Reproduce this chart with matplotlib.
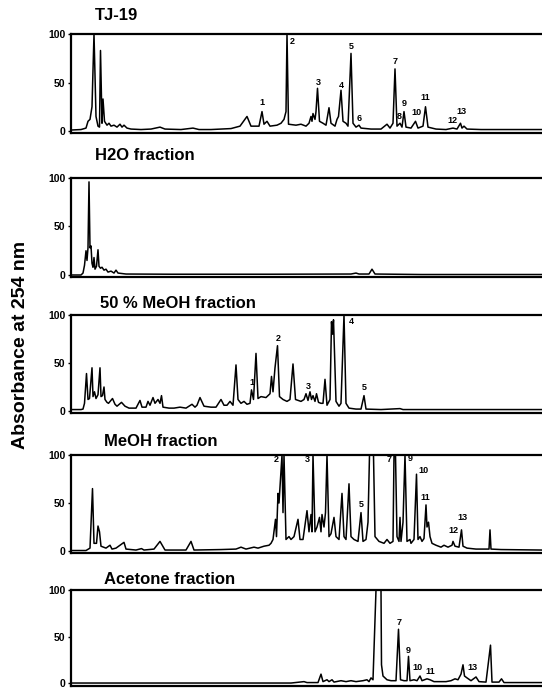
import matplotlib
matplotlib.use('Agg')
import matplotlib.pyplot as plt

plt.rcParams['font.family'] = ['Liberation Sans', 'DejaVu Sans']

# ---------------- data (retention time in min, absorbance in % of full scale) ----------------
panel_names = ['TJ-19', 'H2O fraction', '50 % MeOH fraction', 'MeOH fraction', 'Acetone fraction']

tj19_trace = [(0, 1), (1.0, 1.5), (1.5, 3), (1.7, 10), (1.9, 12), (2.1, 25), (2.3, 100), (2.5, 15),
              (2.7, 5), (2.85, 4), (2.95, 83), (3.1, 8), (3.2, 33), (3.35, 10), (3.6, 6), (3.8, 8),
              (4.0, 5), (4.3, 6), (4.6, 4), (4.9, 7), (5.1, 4), (5.3, 6), (5.6, 3), (6.0, 2),
              (7.0, 1.5), (8.0, 2), (8.9, 4), (9.4, 2), (11.0, 1.5), (12.2, 3), (12.8, 1.5),
              (14.0, 1.5), (16.0, 2.5), (16.9, 5), (17.6, 15), (18.0, 5), (18.8, 5), (19.1, 20),
              (19.3, 7), (19.6, 10), (19.9, 5), (20.6, 6), (21.0, 8), (21.3, 12), (21.5, 20),
              (21.6, 100), (21.75, 7), (22.5, 6), (23.0, 7), (23.5, 5), (23.8, 8), (24.0, 15),
              (24.1, 10), (24.2, 18), (24.4, 12), (24.5, 20), (24.65, 44), (24.85, 10), (25.2, 8),
              (25.5, 6), (25.8, 24), (26.0, 8), (26.4, 5), (26.6, 12), (26.75, 15), (27.0, 42),
              (27.2, 10), (27.5, 8), (27.7, 5), (28.0, 80), (28.2, 8), (28.5, 4), (28.8, 6),
              (29.0, 3), (30.0, 2), (31.0, 2), (31.6, 7), (31.9, 3), (32.2, 8), (32.4, 64),
              (32.6, 5), (32.9, 8), (33.1, 4), (33.3, 20), (33.5, 4), (34.0, 3), (34.45, 10),
              (34.7, 3), (35.2, 5), (35.45, 25), (35.7, 4), (36.5, 2), (37.5, 1.5), (38.2, 3),
              (38.6, 2), (38.95, 8), (39.1, 3), (39.3, 5), (39.6, 2), (41.0, 1.5), (47.1, 1.5)]
tj19_peak_ids = ['1', '2', '3', '4', '5', '6', '7', '8', '9', '10', '11', '12', '13']
tj19_label_t = [19.1, 22.1, 24.7, 27.0, 28.0, 28.8, 32.4, 32.8, 33.3, 34.5, 35.4, 38.1, 39.0]
tj19_label_a = [29, 92, 50, 47, 87, 13, 72, 15, 28, 19, 35, 11, 20]

h2o_trace = [(0, 0), (1.0, 0), (1.2, 2), (1.35, 10), (1.5, 25), (1.6, 15), (1.7, 28), (1.8, 96),
             (1.9, 28), (2.0, 30), (2.1, 12), (2.2, 8), (2.3, 18), (2.4, 6), (2.55, 9), (2.7, 26),
             (2.8, 9), (2.95, 7), (3.1, 8), (3.3, 5), (3.5, 6), (3.7, 3), (4.0, 4), (4.3, 2),
             (4.5, 5), (4.7, 2), (5.5, 1), (10.0, 0.8), (20.0, 0.8), (28.0, 1), (28.5, 2),
             (28.8, 1), (29.8, 1), (30.1, 6), (30.4, 1), (35.0, 0.5), (47.1, 0.5)]
h2o_peak_ids = []
h2o_label_t = []
h2o_label_a = []

meoh50_trace = [(0, 1.5), (1.0, 1.5), (1.2, 2), (1.35, 8), (1.55, 39), (1.7, 12), (1.85, 13),
                (2.1, 45), (2.2, 15), (2.35, 20), (2.5, 13), (2.7, 17), (2.9, 45), (3.0, 15),
                (3.15, 16), (3.3, 25), (3.4, 12), (3.6, 9), (3.75, 8), (4.15, 13), (4.4, 7),
                (4.6, 5), (5.05, 9), (5.4, 5), (5.8, 3), (6.5, 3), (6.9, 11), (7.1, 4), (7.5, 4),
                (7.7, 10), (7.9, 6), (8.2, 14), (8.4, 8), (8.7, 12), (8.9, 8), (9.05, 16), (9.2, 4),
                (9.8, 3), (10.3, 3), (10.9, 4), (11.5, 3), (12.1, 7), (12.4, 4), (12.6, 6),
                (12.9, 14), (13.3, 5), (14.0, 4), (14.5, 4), (15.0, 12), (15.3, 6), (15.6, 6),
                (15.9, 10), (16.2, 6), (16.5, 48), (16.7, 12), (17.0, 8), (17.3, 10), (17.6, 7),
                (17.9, 8), (18.05, 22), (18.25, 12), (18.5, 60), (18.7, 13), (19.0, 15),
                (19.5, 14), (19.9, 18), (20.05, 36), (20.2, 20), (20.4, 45), (20.65, 68),
                (20.85, 15), (21.2, 12), (21.6, 10), (21.9, 12), (22.2, 49), (22.45, 12),
                (23.0, 10), (23.3, 12), (23.5, 18), (23.7, 11), (23.9, 20), (24.05, 12),
                (24.2, 16), (24.4, 10), (24.55, 18), (24.75, 9), (25.0, 8), (25.2, 8), (25.4, 33),
                (25.6, 6), (25.9, 12), (26.05, 93), (26.15, 80), (26.25, 95), (26.5, 10),
                (26.8, 5), (27.0, 8), (27.3, 100), (27.5, 8), (27.8, 3), (28.5, 2), (29.0, 2),
                (29.3, 16), (29.5, 2), (31.0, 1.5), (32.9, 2.5), (33.2, 1.5), (47.1, 1.5)]
meoh50_peak_ids = ['1', '2', '3', '4', '5']
meoh50_label_t = [18.1, 20.7, 23.7, 28.0, 29.3]
meoh50_label_a = [30, 75, 25, 93, 24]

meoh_trace = [(0, 0.5), (1.5, 0.5), (1.9, 3), (2.15, 65), (2.3, 8), (2.55, 8), (2.7, 26),
              (2.85, 20), (3.0, 5), (3.5, 3), (3.9, 6), (4.1, 2), (4.5, 3), (5.3, 9), (5.5, 2),
              (6.5, 1), (7.05, 2.5), (7.3, 1), (8.3, 2), (8.9, 10), (9.4, 1), (11.5, 1),
              (12.0, 10), (12.3, 1), (15.0, 1.5), (16.5, 2), (17.0, 4), (17.5, 2), (18.3, 4),
              (18.7, 3), (19.3, 5), (19.8, 6), (20.0, 8), (20.2, 12), (20.45, 33), (20.55, 15),
              (20.7, 60), (20.8, 50), (21.1, 100), (21.2, 40), (21.3, 100), (21.5, 12),
              (21.8, 15), (22.0, 12), (22.3, 15), (22.7, 33), (22.9, 12), (23.2, 12), (23.6, 42),
              (23.8, 20), (24.0, 38), (24.1, 20), (24.2, 100), (24.4, 20), (24.6, 25),
              (24.85, 35), (25.0, 20), (25.1, 38), (25.3, 25), (25.45, 40), (25.6, 100),
              (25.8, 15), (26.0, 18), (26.3, 35), (26.5, 15), (26.8, 12), (27.1, 60), (27.3, 15),
              (27.5, 12), (27.8, 70), (28.0, 15), (28.3, 12), (28.7, 10), (29.0, 40), (29.2, 10),
              (29.5, 12), (29.7, 30), (29.85, 100), (30.25, 100), (30.4, 15), (30.8, 10),
              (31.3, 8), (31.6, 12), (31.9, 8), (32.2, 10), (32.3, 100), (32.45, 100),
              (32.6, 15), (32.8, 10), (32.9, 35), (33.0, 10), (33.2, 30), (33.4, 100),
              (33.6, 10), (33.9, 12), (34.0, 8), (34.3, 12), (34.55, 80), (34.7, 12), (34.9, 15),
              (35.1, 10), (35.3, 13), (35.5, 48), (35.6, 25), (35.75, 30), (35.9, 15), (36.1, 8),
              (36.5, 6), (37.0, 4), (37.3, 6), (37.7, 4), (38.1, 6), (38.2, 10), (38.4, 5),
              (38.8, 4), (39.05, 22), (39.2, 5), (39.6, 3), (40.5, 2), (41.8, 2), (41.9, 22),
              (42.0, 2), (43.0, 1.5), (47.1, 1)]
meoh_peak_ids = ['2', '3', '5', '7', '9', '10', '11', '12', '13']
meoh_label_t = [20.5, 23.6, 29.0, 31.8, 33.9, 35.2, 35.4, 38.2, 39.1]
meoh_label_a = [95, 95, 48, 95, 96, 84, 56, 21, 35]

acetone_trace = [(0, 0.5), (22.0, 0.5), (23.3, 2), (23.6, 1), (24.7, 1), (25.0, 10), (25.2, 2),
                 (25.6, 4), (25.8, 2), (26.1, 4), (26.3, 1.5), (27.0, 3), (27.5, 2), (28.0, 3),
                 (28.5, 2), (29.2, 3), (29.6, 4), (29.8, 2), (30.0, 6), (30.2, 4), (30.5, 100),
                 (31.0, 100), (31.05, 20), (31.2, 8), (31.6, 4), (32.0, 3), (32.5, 3),
                 (32.75, 58), (32.95, 4), (33.3, 3), (33.6, 3), (33.75, 29), (33.9, 3), (34.3, 4),
                 (34.6, 3), (34.9, 8), (35.1, 3), (35.6, 5), (35.9, 4), (36.3, 2), (37.5, 2),
                 (38.0, 3), (38.4, 5), (38.7, 4), (39.0, 10), (39.2, 20), (39.35, 8), (39.6, 6),
                 (40.0, 3), (40.5, 7), (40.8, 2), (41.5, 1.5), (41.95, 41), (42.1, 1.5),
                 (42.8, 1.5), (43.05, 5), (43.3, 1), (47.1, 1)]
acetone_peak_ids = ['7', '9', '10', '11', '13']
acetone_label_t = [32.8, 33.7, 34.6, 35.9, 40.1]
acetone_label_a = [65, 35, 17, 13, 17]

y_ticks = [0, 50, 100]
y_label = 'Absorbance at 254 nm'

# ---------------- layout ----------------
W, H = 542.0, 688.0
fig = plt.figure(figsize=(W / 100, H / 100), dpi=100)

traces = [tj19_trace, h2o_trace, meoh50_trace, meoh_trace, acetone_trace]
peak_ids = [tj19_peak_ids, h2o_peak_ids, meoh50_peak_ids, meoh_peak_ids, acetone_peak_ids]
label_ts = [tj19_label_t, h2o_label_t, meoh50_label_t, meoh_label_t, acetone_label_t]
label_as = [tj19_label_a, h2o_label_a, meoh50_label_a, meoh_label_a, acetone_label_a]

panel_top_px = [34, 178, 315, 455, 590]
panel_scale = [0.97, 0.97, 0.96, 0.96, 0.935]
title_x_px = [95, 95, 100, 104, 104]
title_y_px = [16, 156, 304, 441, 579]
left_px = 71
ymin = -2.5

for i in range(5):
    T = panel_top_px[i]
    B = T + (100 - ymin) * panel_scale[i]
    ax = fig.add_axes([left_px / W, 1 - B / H, 1 - left_px / W, (B - T) / H])
    t_vals, a_vals = zip(*traces[i])
    ax.plot(t_vals, a_vals, color='black', lw=1.1)
    ax.set_xlim(0, 47.1)
    ax.set_ylim(ymin, 100)
    ax.set_xticks([])
    ax.set_yticks(y_ticks)
    ax.spines['right'].set_visible(False)
    for s in ['left', 'top', 'bottom']:
        ax.spines[s].set_linewidth(1.6)
    ax.tick_params(axis='y', direction='out', length=2.5, width=1, pad=1.5, labelsize=7.5)
    for lab in ax.get_yticklabels():
        lab.set_fontweight('bold')
    for pid, lt, la in zip(peak_ids[i], label_ts[i], label_as[i]):
        ax.text(lt, la, pid, fontsize=6.5, fontweight='bold', ha='center', va='center')
    fig.text(title_x_px[i] / W, 1 - title_y_px[i] / H, panel_names[i], fontsize=12,
             fontweight='bold', ha='left', va='center')

fig.text(21 / W, 1 - 345 / H, y_label, rotation=90, fontsize=14, fontweight='bold',
         ha='center', va='center')

fig.savefig('out.png', dpi=100)
